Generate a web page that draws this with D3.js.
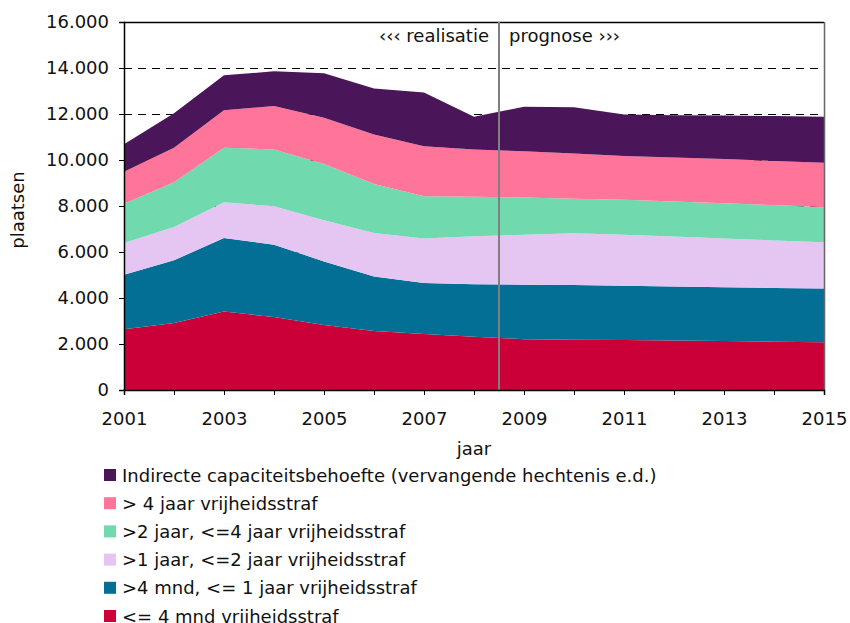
<!DOCTYPE html>
<html>
<head>
<meta charset="utf-8">
<script src="https://cdn.jsdelivr.net/npm/d3@7/dist/d3.min.js"></script>
<style>
  html, body { margin: 0; padding: 0; background: #fff; }
  svg text { font-family: "DejaVu Sans", Verdana, sans-serif; fill: #111; }
</style>
</head>
<body>
<svg id="chart" width="850" height="623"></svg>
<script>
// Years on the horizontal axis
const years = [2001, 2002, 2003, 2004, 2005, 2006, 2007, 2008, 2009, 2010, 2011, 2012, 2013, 2014, 2015];

// Places per category (stacked bottom to top)
const kort = [2640, 2910, 3410, 3170, 2830, 2570, 2430, 2320, 2210, 2190, 2170, 2150, 2130, 2100, 2080];
const tot1jaar = [2370, 2730, 3200, 3150, 2760, 2370, 2220, 2280, 2370, 2370, 2360, 2350, 2340, 2340, 2330];
const tot2jaar = [1380, 1450, 1550, 1670, 1790, 1890, 1940, 2080, 2170, 2250, 2220, 2170, 2120, 2060, 2010];
const tot4jaar = [1710, 1940, 2370, 2470, 2450, 2130, 1830, 1720, 1620, 1510, 1520, 1530, 1530, 1540, 1530];
const boven4jaar = [1390, 1500, 1630, 1890, 2010, 2150, 2180, 2060, 2010, 1960, 1900, 1910, 1920, 1920, 1930];
const indirect = [1190, 1500, 1520, 1510, 1930, 2000, 2330, 1420, 1940, 2010, 1810, 1840, 1890, 1950, 2000];

const seriesNames = [
  "<= 4 mnd vrijheidsstraf",
  ">4 mnd, <= 1 jaar vrijheidsstraf",
  ">1 jaar, <=2 jaar vrijheidsstraf",
  ">2 jaar, <=4 jaar vrijheidsstraf",
  "> 4 jaar vrijheidsstraf",
  "Indirecte capaciteitsbehoefte (vervangende hechtenis e.d.)"
];
const seriesColors = ["#CC0039", "#046F95", "#E5C6F2", "#70D9AE", "#FF7499", "#4A1559"];
const seriesValues = [kort, tot1jaar, tot2jaar, tot4jaar, boven4jaar, indirect];

const yTicks = [0, 2000, 4000, 6000, 8000, 10000, 12000, 14000, 16000];
const xLabelYears = [2001, 2003, 2005, 2007, 2009, 2011, 2013, 2015];
const splitYear = 2008.5; // boundary between realised and forecast

const svg = d3.select("#chart");
const plotL = 124, plotR = 824, plotT = 22, plotB = 390;
const FS = 18;

const x = d3.scaleLinear().domain([2001, 2015]).range([plotL, plotR]);
const y = d3.scaleLinear().domain([0, 16000]).range([plotB, plotT]);

const fmt = d => d3.format(",")(d).replace(/,/g, ".");

// rows for the stack
const rows = years.map((yr, i) => {
  const r = { year: yr };
  seriesValues.forEach((s, k) => { r["s" + k] = s[i]; });
  return r;
});
const keys = seriesValues.map((_, k) => "s" + k);
const stacked = d3.stack().keys(keys)(rows);

// dashed gridlines
svg.append("g")
  .selectAll("line")
  .data(yTicks.filter(t => t > 0 && t < 16000))
  .join("line")
  .attr("x1", plotL).attr("x2", plotR)
  .attr("y1", d => Math.round(y(d)) + 0.5).attr("y2", d => Math.round(y(d)) + 0.5)
  .attr("stroke", "#000").attr("stroke-width", 1)
  .attr("stroke-dasharray", "8,6");

// stacked areas
const area = d3.area()
  .x(d => x(d.data.year))
  .y0(d => y(d[0]))
  .y1(d => y(d[1]));

svg.append("g")
  .selectAll("path")
  .data(stacked)
  .join("path")
  .attr("d", area)
  .attr("fill", (d, i) => seriesColors[i]);

// plot frame: top and right edges
svg.append("line").attr("x1", plotL).attr("x2", plotR).attr("y1", plotT + 0.5).attr("y2", plotT + 0.5)
  .attr("stroke", "#000").attr("stroke-width", 1.5);
svg.append("line").attr("x1", plotR + 0.5).attr("x2", plotR + 0.5).attr("y1", plotT).attr("y2", plotB)
  .attr("stroke", "#666").attr("stroke-width", 1.5);

// realisation / forecast divider
svg.append("line")
  .attr("x1", x(splitYear)).attr("x2", x(splitYear))
  .attr("y1", plotT).attr("y2", plotB)
  .attr("stroke", "#7f7f7f").attr("stroke-width", 2);

svg.append("text").attr("x", x(splitYear) - 10).attr("y", 42)
  .attr("text-anchor", "end").attr("font-size", FS).text("‹‹‹ realisatie");
svg.append("text").attr("x", x(splitYear) + 10).attr("y", 42)
  .attr("text-anchor", "start").attr("font-size", FS).text("prognose ›››");

// y axis
const yAxis = svg.append("g").attr("transform", `translate(${plotL},0)`)
  .call(d3.axisLeft(y).tickValues(yTicks).tickFormat(fmt).tickSize(5).tickPadding(10));
yAxis.select(".domain").attr("stroke", "#000").attr("stroke-width", 1.5);
yAxis.selectAll(".tick line").attr("stroke", "#000");
yAxis.selectAll(".tick text").attr("font-size", FS).attr("font-family", "DejaVu Sans, sans-serif").attr("fill", "#111");

// x axis
const xAxis = svg.append("g").attr("transform", `translate(0,${plotB})`)
  .call(d3.axisBottom(x).tickValues(years).tickSize(5).tickPadding(17)
    .tickFormat(d => xLabelYears.includes(d) ? String(d) : ""));
xAxis.select(".domain").attr("stroke", "#000").attr("stroke-width", 1.5);
xAxis.selectAll(".tick line").attr("stroke", "#000");
xAxis.selectAll(".tick text").attr("font-size", FS).attr("font-family", "DejaVu Sans, sans-serif").attr("fill", "#111");

// axis titles
svg.append("text").attr("x", (plotL + plotR) / 2).attr("y", 455)
  .attr("text-anchor", "middle").attr("font-size", FS).text("jaar");
svg.append("text").attr("transform", `translate(24,${(plotT + plotB) / 2 + 4}) rotate(-90)`)
  .attr("text-anchor", "middle").attr("font-size", FS).text("plaatsen");

// legend, top entry is the top layer
const legendOrder = d3.range(seriesNames.length).reverse();
const lg = svg.append("g");
legendOrder.forEach((k, row) => {
  const cy = 475 + row * 28.2;
  lg.append("rect").attr("x", 104).attr("y", cy - 6).attr("width", 12).attr("height", 12)
    .attr("fill", seriesColors[k]);
  lg.append("text").attr("x", 122).attr("y", cy + 6.5).attr("font-size", FS).text(seriesNames[k]);
});
</script>
</body>
</html>
